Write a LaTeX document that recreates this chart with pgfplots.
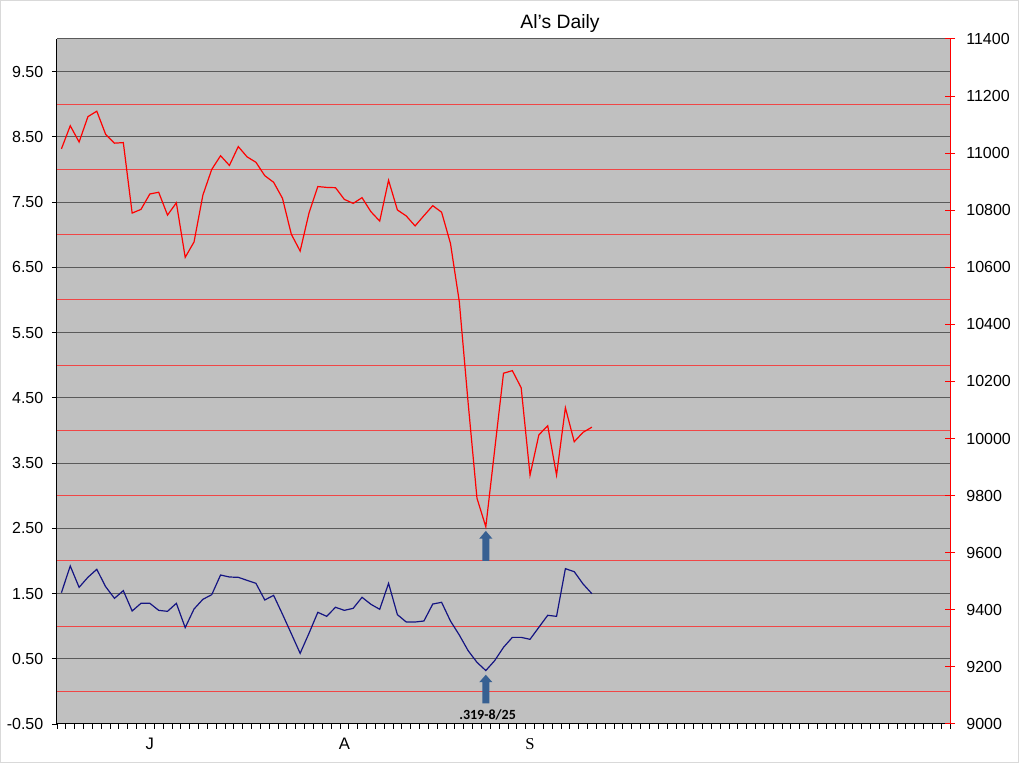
\documentclass[border=0pt]{standalone}
\usepackage{pgfplots}
\pgfplotsset{compat=1.18}
\usepackage{pgfplotstable}
\usepackage{fontspec}
\setmainfont{Liberation Sans}
\newfontfamily\serifS{Liberation Serif}
\newfontfamily\carlito{Carlito}
\definecolor{plotbg}{RGB}{192,192,192}
\definecolor{gridgray}{RGB}{90,90,90}
\definecolor{gridred}{RGB}{240,70,70}
\definecolor{navyline}{RGB}{20,20,130}
\definecolor{arrowblue}{RGB}{55,96,146}
\definecolor{frame}{RGB}{217,217,217}

\pgfplotstableread{
i v
0 11015
1 11096
2 11039
3 11128
4 11147
5 11066
6 11035
7 11037
8 10790
9 10803
10 10857
11 10863
12 10783
13 10826
14 10635
15 10689
16 10853
17 10943
18 10991
19 10957
20 11023
21 10987
22 10968
23 10921
24 10898
25 10842
26 10716
27 10657
28 10790
29 10883
30 10880
31 10879
32 10838
33 10824
34 10844
35 10795
36 10762
37 10905
38 10801
39 10780
40 10745
41 10781
42 10816
43 10793
44 10684
45 10480
46 10125
47 9791
48 9691
49 9960
50 10229
51 10238
52 10178
53 9872
54 10013
55 10045
56 9872
57 10108
58 9989
59 10022
60 10040
}\reddata

\pgfplotstableread{
i v
0 1.513
1 1.922
2 1.595
3 1.749
4 1.871
5 1.605
6 1.426
7 1.544
8 1.232
9 1.35
10 1.35
11 1.242
12 1.227
13 1.35
14 0.977
15 1.263
16 1.411
17 1.482
18 1.784
19 1.753
20 1.748
21 1.702
22 1.656
23 1.401
24 1.472
25 1.183
26 0.885
27 0.583
28 0.89
29 1.212
30 1.15
31 1.289
32 1.242
33 1.273
34 1.442
35 1.335
36 1.258
37 1.656
38 1.176
39 1.063
40 1.063
41 1.079
42 1.339
43 1.365
44 1.079
45 0.864
46 0.624
47 0.445
48 0.319
49 0.471
50 0.675
51 0.828
52 0.828
53 0.798
54 0.982
55 1.166
56 1.15
57 1.881
58 1.835
59 1.646
60 1.497
}\bluedata

\begin{document}
\begin{tikzpicture}
\useasboundingbox (-42.75pt,-31.5pt) rectangle (723pt,543pt);
\draw[frame, line width=0.75pt] (-42.4pt,542.6pt) rectangle (720.75pt,-29.25pt);
\node[font=\fontsize{14.5}{16}\selectfont] at (377.25pt,525pt) {Al's Daily};

\begin{axis}[
  at={(0,0)}, anchor=south west,
  scale only axis, width=669.75pt, height=513.75pt,
  xmin=0, xmax=101, ymin=-0.5, ymax=10,
  axis background/.style={fill=plotbg},
  axis y line*=left, axis x line*=bottom,
  axis line style={black, line width=0.75pt, -},
  xtick={0,1,...,101}, xticklabels={},
  tick align=outside,
  major tick length=3.75pt,
  tick style={black, line width=0.6pt},
  extra x ticks={10.5,32.5,53.5},
  extra x tick labels={J,A,{\serifS S}},
  extra x tick style={major tick length=0pt, xticklabel style={yshift=-7pt, font=\fontsize{12.5}{14}\selectfont}},
  ytick={-0.5,0.5,...,9.5},
  yticklabels={-0.50,0.50,1.50,2.50,3.50,4.50,5.50,6.50,7.50,8.50,9.50},
  minor ytick={0,1,...,9},
  minor tick length=0pt,
  ymajorgrids=true, yminorgrids=true,
  major grid style={gridgray, line width=0.75pt},
  minor grid style={gridred, line width=0.75pt},
  extra y ticks={10}, extra y tick labels={},
  extra y tick style={major tick length=0pt, grid=major},
  tick label style={font=\fontsize{12}{14}\selectfont, black},
  yticklabel style={xshift=-3pt},
]
\addplot[navyline, line width=0.9pt, mark=none] table[x expr=\thisrow{i}+0.5, y=v] {\bluedata};
\fill[arrowblue] (axis cs:48.1,2.0) -- (axis cs:48.1,2.34) -- (axis cs:47.75,2.34) -- (axis cs:48.5,2.46) -- (axis cs:49.25,2.34) -- (axis cs:48.9,2.34) -- (axis cs:48.9,2.0) -- cycle;
\fill[arrowblue] (axis cs:48.1,-0.185) -- (axis cs:48.1,0.14) -- (axis cs:47.75,0.14) -- (axis cs:48.5,0.255) -- (axis cs:49.25,0.14) -- (axis cs:48.9,0.14) -- (axis cs:48.9,-0.185) -- cycle;
\node[font=\carlito\bfseries\fontsize{10.5}{12}\selectfont] at (axis cs:48.7,-0.36) {.319-8/25};
\end{axis}

\begin{axis}[
  at={(0,0)}, anchor=south west,
  scale only axis, width=669.75pt, height=513.75pt,
  xmin=0, xmax=101, ymin=9000, ymax=11400,
  axis x line=none, axis y line*=right,
  axis line style={red, line width=0.75pt, -},
  ytick={9000,9200,...,11400},
  yticklabels={9000,9200,9400,9600,9800,10000,10200,10400,10600,10800,11000,11200,11400},
  scaled y ticks=false,
  tick align=center, major tick length=7.5pt,
  tick style={red, line width=0.75pt},
  tick label style={font=\fontsize{12}{14}\selectfont, black},
  yticklabel style={xshift=5pt},
]
\addplot[red, line width=0.9pt, mark=none] table[x expr=\thisrow{i}+0.5, y=v] {\reddata};
\end{axis}
\end{tikzpicture}
\end{document}
